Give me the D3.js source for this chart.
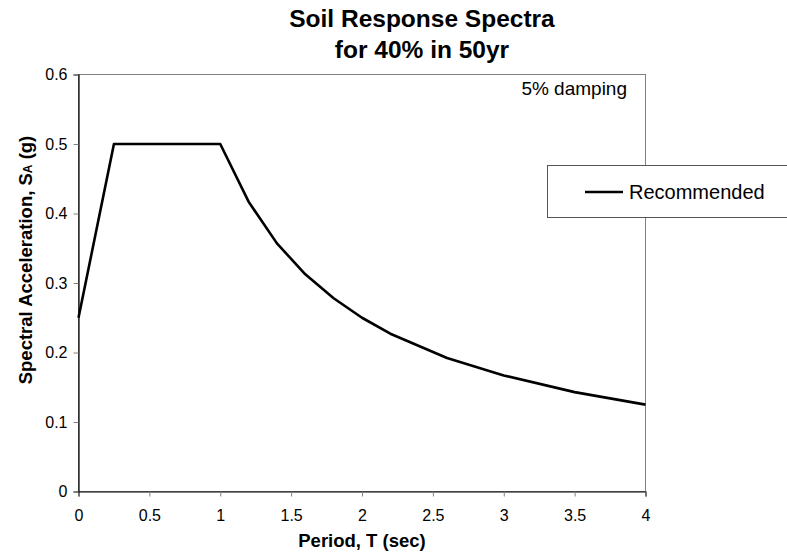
<!DOCTYPE html>
<html><head><meta charset="utf-8">
<script src="https://cdn.jsdelivr.net/npm/d3@7"></script>
<style>body{margin:0;background:#fff}svg{display:block;font-family:"Liberation Sans",Arial,sans-serif}</style>
</head><body>
<svg id="c" width="787" height="558"></svg>
<script>
const periods = [0, 0.25, 1.0, 1.2, 1.4, 1.6, 1.8, 2.0, 2.2, 2.6, 3.0, 3.5, 4.0];
const accel   = [0.25, 0.5, 0.5, 0.417, 0.357, 0.3125, 0.278, 0.25, 0.227, 0.192, 0.167, 0.143, 0.125];
const xTicks = [0, 0.5, 1, 1.5, 2, 2.5, 3, 3.5, 4];
const yTicks = [0, 0.1, 0.2, 0.3, 0.4, 0.5, 0.6];
const titleLines = ["Soil Response Spectra", "for 40% in 50yr"];
const seriesName = "Recommended";

const svg = d3.select("#c");
const L = 78.5, R = 645.5, T = 74.5, B = 491.5;
const x = d3.scaleLinear().domain([0, 4]).range([L, R]);
const y = d3.scaleLinear().domain([0, 0.6]).range([B, T]);

// plot area border
svg.append("rect").attr("x", L).attr("y", T).attr("width", R - L).attr("height", B - T)
  .attr("fill", "none").attr("stroke", "#808080").attr("stroke-width", 1);

// axes
const xAxis = d3.axisBottom(x).tickValues(xTicks).tickSize(5).tickPadding(13)
  .tickFormat(d => String(d));
const gx = svg.append("g").attr("transform", `translate(0,${B})`).call(xAxis);
gx.select(".domain").attr("stroke", "#000").attr("stroke-width", 1.2);
gx.selectAll(".tick line").attr("stroke", "#808080");
gx.selectAll("text").attr("font-size", 16).attr("fill", "#000").attr("font-family", "Liberation Sans, Arial, sans-serif");

const yAxis = d3.axisLeft(y).tickValues(yTicks).tickSize(5).tickPadding(6)
  .tickFormat(d => String(d));
const gy = svg.append("g").attr("transform", `translate(${L},0)`).call(yAxis);
gy.select(".domain").attr("stroke", "#000").attr("stroke-width", 1.2);
gy.selectAll(".tick line").attr("stroke", "#808080");
gy.selectAll("text").attr("font-size", 16).attr("fill", "#000").attr("font-family", "Liberation Sans, Arial, sans-serif");

// line
const data = periods.map((p, i) => ({p, a: accel[i]}));
svg.append("path").datum(data)
  .attr("fill", "none").attr("stroke", "#000").attr("stroke-width", 2.6)
  .attr("stroke-linejoin", "round")
  .attr("d", d3.line().x(d => x(d.p)).y(d => y(d.a)));

// title
svg.append("text").attr("x", 422).attr("y", 27).attr("text-anchor", "middle")
  .attr("font-size", 24.5).attr("font-weight", "bold").text(titleLines[0]);
svg.append("text").attr("x", 422).attr("y", 58).attr("text-anchor", "middle")
  .attr("font-size", 24.5).attr("font-weight", "bold").text(titleLines[1]);

// axis titles
svg.append("text").attr("x", 362).attr("y", 547).attr("text-anchor", "middle")
  .attr("font-size", 18.5).attr("font-weight", "bold").text("Period, T (sec)");
const yt = svg.append("text").attr("transform", "translate(32,260) rotate(-90)")
  .attr("text-anchor", "middle").attr("font-size", 18.5).attr("font-weight", "bold");
yt.append("tspan").text("Spectral Acceleration, S");
yt.append("tspan").attr("font-size", 12).text("A");
yt.append("tspan").text(" (g)");

// annotation
svg.append("text").attr("x", 627).attr("y", 95).attr("text-anchor", "end")
  .attr("font-size", 19).text("5% damping");

// legend
svg.append("rect").attr("x", 547.5).attr("y", 165.5).attr("width", 260).attr("height", 52)
  .attr("fill", "#fff").attr("stroke", "#555").attr("stroke-width", 1);
svg.append("line").attr("x1", 585).attr("x2", 623).attr("y1", 192).attr("y2", 192)
  .attr("stroke", "#000").attr("stroke-width", 2.6);
svg.append("text").attr("x", 629).attr("y", 199).attr("font-size", 20).text(seriesName);
</script>
</body></html>
